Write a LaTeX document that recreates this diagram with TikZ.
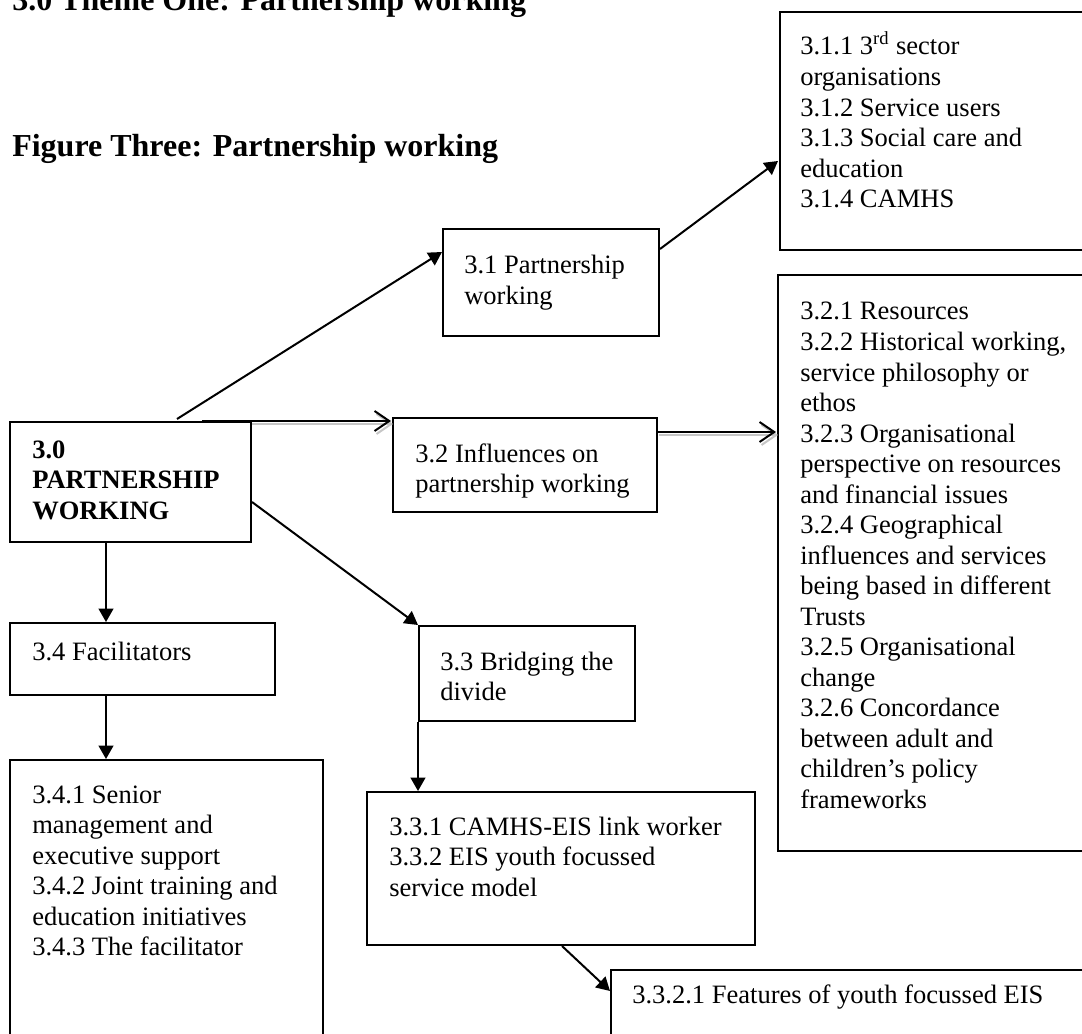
\documentclass[tikz,border=0pt]{standalone}
\usepackage{fontspec}
\setmainfont{Liberation Serif}
\usetikzlibrary{arrows.meta,calc,fit}
\newcommand{\bodyf}{\fontsize{19.9}{22.9}\selectfont}
\newcommand{\titlef}{\fontsize{24}{28}\selectfont\bfseries}
\begin{document}
\begin{tikzpicture}[x=0.75pt,y=-0.75pt,
  box/.style={draw, line width=1.5pt, inner sep=0pt},
  txt/.style={anchor=base west, inner sep=0pt, font=\bodyf},
  ttl/.style={anchor=base west, inner sep=0pt, font=\titlef},
  arr/.style={line width=1.5pt, -{Triangle[length=10pt,width=11pt]}},
  oarr/.style={line width=1.5pt, -{Straight Barb[length=11pt,width=15pt,line width=1.5pt]}},
  shd/.style={line width=1.5pt, gray!45, -{Straight Barb[length=11pt,width=15pt,line width=1.5pt]}}]
\useasboundingbox (0,0) rectangle (1082,1034);

% titles
\node[ttl] (title) at (12,11) {3.0 Theme One: Partnership working};
\node[ttl] (fig) at (12,157) {Figure Three: Partnership working};

% boxes
\node[box, fit={(10,422) (251,542)}] (b30) {};
\node[box, fit={(443,229) (659,336)}] (b31) {};
\node[box, fit={(780,12) (1110,250)}] (b311) {};
\node[box, fit={(393,418) (657,512)}] (b32) {};
\node[box, fit={(778,275) (1110,851)}] (b32x) {};
\node[box, fit={(10,623) (275,695)}] (b34) {};
\node[box, fit={(419,626) (635,721)}] (b33) {};
\node[box, fit={(367,792) (755,945)}] (b331) {};
\node[box, fit={(611,970) (1110,1070)}] (b3321) {};
\node[box, fit={(10,760) (323,1070)}] (b341) {};

% texts
\node[txt] (t30) at (32,458) {\parbox[t]{400pt}{\bfseries 3.0\\PARTNERSHIP\\WORKING}};
\node[txt] (t31) at (464,274) {\parbox[t]{400pt}{3.1 Partnership\\working}};
\node[txt] (t311) at (800,55) {\parbox[t]{400pt}{3.1.1 3\textsuperscript{rd} sector\\organisations\\3.1.2 Service users\\3.1.3 Social care and\\education\\3.1.4 CAMHS}};
\node[txt] (t32) at (415,462) {\parbox[t]{400pt}{3.2 Influences on\\partnership working}};
\node[txt] (t32x) at (800,320) {\parbox[t]{400pt}{3.2.1 Resources\\3.2.2 Historical working,\\service philosophy or\\ethos\\3.2.3 Organisational\\perspective on resources\\and financial issues\\3.2.4 Geographical\\influences and services\\being based in different\\Trusts\\3.2.5 Organisational\\change\\3.2.6 Concordance\\between adult and\\children’s policy\\frameworks}};
\node[txt] (t34) at (32,660) {\parbox[t]{400pt}{3.4 Facilitators}};
\node[txt] (t33) at (440,670) {\parbox[t]{400pt}{3.3 Bridging the\\divide}};
\node[txt] (t331) at (389,835) {\parbox[t]{400pt}{3.3.1 CAMHS-EIS link worker\\3.3.2 EIS youth focussed\\service model}};
\node[txt] (t3321) at (632,1003) {\parbox[t]{500pt}{3.3.2.1 Features of youth focussed EIS}};
\node[txt] (t341) at (32,803) {\parbox[t]{400pt}{3.4.1 Senior\\management and\\executive support\\3.4.2 Joint training and\\education initiatives\\3.4.3 The facilitator}};

% connectors
\draw[arr] ($(b30.north west)+(168,-2)$) -- ($(b31.north west)+(0,24)$);
\draw[arr] ($(b31.north east)+(0,21)$) -- ($(b311.north west)+(-1,150)$);
\draw[shd] ($(b30.north east)+(0,3)$) -- ($(b32.north west)+(1,7)$);
\draw[oarr] ($(b30.north west)+(193,0)$) -- ($(b32.north west)+(-1,4)$);
\draw[shd] ($(b32.north east)+(1,18)$) -- ($(b32x.north west)+(1,161)$);
\draw[oarr] ($(b32.north east)+(0,15)$) -- ($(b32x.north west)+(-1,158)$);
\draw[arr] ($(b30.north east)+(0,81)$) -- (b33.north west);
\draw[arr] ($(b30.south west)+(97,0)$) -- ($(b34.north west)+(97,0)$);
\draw[arr] ($(b34.south west)+(97,0)$) -- ($(b341.north west)+(97,0)$);
\draw[arr] (b33.south west) -- ($(b331.north west)+(52,0)$);
\draw[arr] ($(b331.south west)+(196,0)$) -- ($(b3321.north west)+(0,22)$);
\end{tikzpicture}
\end{document}
